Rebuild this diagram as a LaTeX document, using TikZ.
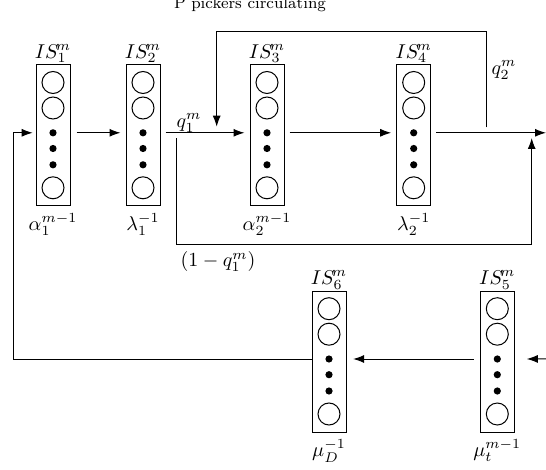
\documentclass[tikz,border=0pt]{standalone}
\usetikzlibrary{arrows.meta,calc}
\begin{document}
\begin{tikzpicture}[x=0.5pt,y=-0.5pt,line width=0.5pt,
  qbox/.style={draw,minimum width=17pt,minimum height=70.5pt,inner sep=0pt},
  slot/.style={draw,circle,minimum size=11pt,inner sep=0pt},
  tok/.style={fill,circle,minimum size=3.6pt,inner sep=0pt},
  arr/.style={-{Latex[length=5.5pt,width=4pt]}},
  toplbl/.style={anchor=south,inner sep=0.5pt},
  botlbl/.style={anchor=north,inner sep=3pt}]
\useasboundingbox (0,0) rectangle (546,470);

% one station: name, x centre, top edge, name above, rate below
\newcommand{\station}[5]{%
  \node[qbox,anchor=north,label={[toplbl]north:#4},label={[botlbl]south:#5}] (#1) at (#2,#3) {};
  \foreach \o [count=\i] in {18,43.5,123.3}
    \node[slot] (#1-s\i) at ($(#1.north)+(0,\o)$) {};
  \foreach \o [count=\i] in {68.3,84,100.3}
    \node[tok] (#1-t\i) at ($(#1.north)+(0,\o)$) {};
  \coordinate (#1-l) at ($(#1.north)+(0,68.3)$);
}
\newcommand{\isname}[1]{$IS^{\mkern-3mu m}_{#1}$}

\node[font=\footnotesize,anchor=base] (title) at (250,8.3) {P pickers circulating};

\station{b1}{53}{64.5}{\isname{1}}{$\alpha_1^{m-1}$}
\station{b2}{143}{64.5}{\isname{2}}{$\lambda_1^{-1}$}
\station{b3}{267}{64.5}{\isname{3}}{$\alpha_2^{m-1}$}
\station{b4}{413.7}{64.5}{\isname{4}}{$\lambda_2^{-1}$}
\station{b6}{329}{290.7}{\isname{6}}{$\mu_D^{-1}$}
\station{b5}{497.3}{290.7}{\isname{5}}{$\mu_t^{m-1}$}

% free ends of the connectors
\coordinate (outR) at (546,132.8);
\coordinate (inR) at (546,358.9);
\coordinate (retX) at (13.3,0);
\coordinate (fbR) at (486,127.3);
\coordinate (fbL) at (216.7,126.7);
\coordinate (fbTop) at (0,31.7);
\coordinate (byS) at (176.7,138.3);
\coordinate (byE) at (531.7,138);
\coordinate (byBot) at (0,245);

% main line, upper row
\draw[arr] ([xshift=3pt]b1-l -| b1.east) -- ([xshift=-2.5pt]b2-l -| b2.west);
\draw[arr] ([xshift=2.5pt]b2-l -| b2.east) -- ([xshift=-2.5pt]b3-l -| b3.west);
\draw[arr] ([xshift=2.5pt]b3-l -| b3.east) -- ([xshift=-2.5pt]b4-l -| b4.west);
\draw[arr] ([xshift=2.5pt]b4-l -| b4.east) -- (outR);

% main line, lower row and return to the first station
\draw[arr] (inR) -- ([xshift=6pt]b5-l -| b5.east);
\draw[arr] ([xshift=-3pt]b5-l -| b5.west) -- ([xshift=3.3pt]b6-l -| b6.east);
\draw[arr] (b6-l -| b6.west) -- (b6-l -| retX) -- (b1-l -| retX) -- ([xshift=-1.4pt]b1-l -| b1.west);

% branch back with probability q2
\draw[arr] (fbR) -- (fbR |- fbTop) -- (fbL |- fbTop) -- (fbL);
% bypass with probability 1 - q1
\draw[arr] (byS) -- (byS |- byBot) -- (byE |- byBot) -- (byE);

\node (q1) at (189,123) {$q_1^m$};
\node (q2) at (504,70) {$q_2^m$};
\node (nq1) at (218,262) {$(1-q_1^m)$};
\end{tikzpicture}
\end{document}
